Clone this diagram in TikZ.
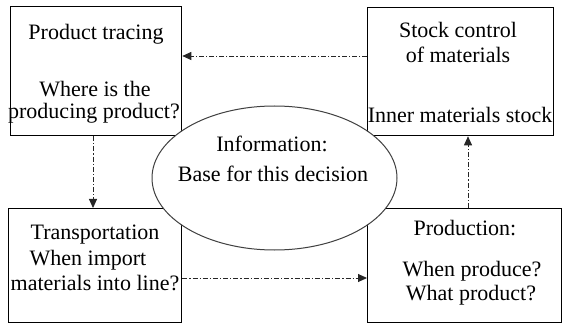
\documentclass[tikz,border=0pt]{standalone}
\usepackage{fontspec}
\setmainfont{Liberation Serif}
\usetikzlibrary{shapes.geometric,arrows.meta}
\tikzset{
  box/.style={draw=black, line width=1.3pt, inner sep=0pt, anchor=north west},
  txt/.style={anchor=base, inner sep=0pt, font=\rmfamily\fontsize{22}{22}\selectfont},
  arr/.style={draw=black!85, line width=0.9pt, dash pattern=on 5pt off 2pt on 1.2pt off 2pt, -{Triangle[length=9pt,width=8pt]}},
}
\begin{document}
\begin{tikzpicture}[x=1pt,y=-1pt]
\useasboundingbox (0,0) rectangle (562,323);
% boxes
\node[box, minimum width=171pt, minimum height=129pt] (tl) at (10,6) {};
\node[box, minimum width=186pt, minimum height=128pt] (tr) at (367,7) {};
\node[box, minimum width=173pt, minimum height=114pt] (bl) at (8,208) {};
\node[box, minimum width=194pt, minimum height=114pt] (br) at (367,208) {};
% ellipse
\node[ellipse, draw=black!75, line width=1pt, fill=white, minimum width=245pt, minimum height=144pt, inner sep=0pt] (el) at (274.5,178) {};
% texts
\node[txt] (t1) at (96,40) {Product tracing};
\node[txt] (t2) at (95,96.5) {Where is the};
\node[txt] (t3) at (94,119) {producing product?};
\node[txt] (t4) at (458,38) {Stock control};
\node[txt] (t5) at (458,63) {of materials};
\node[txt] (t6) at (460,123) {Inner materials stock};
\node[txt] (t7) at (272,152) {Information:};
\node[txt] (t8) at (273,182) {Base for this decision};
\node[txt] (t9) at (95,240) {Transportation};
\node[txt] (t10) at (88,265) {When import};
\node[txt] (t11) at (95,290) {materials into line?};
\node[txt] (t12) at (465,236) {Production:};
\node[txt] (t13) at (472,276) {When produce?};
\node[txt] (t14) at (471,300) {What product?};
% connectors
\draw[arr] (tr.west |- 0,56) -- (tl.east |- 0,56);
\draw[arr] (tl.south -| 93,0) -- (bl.north -| 93,0);
\draw[arr] (bl.east |- 0,278) -- (br.west |- 0,278);
\draw[arr] (br.north -| 468,0) -- (tr.south -| 468,0);
\end{tikzpicture}
\end{document}
